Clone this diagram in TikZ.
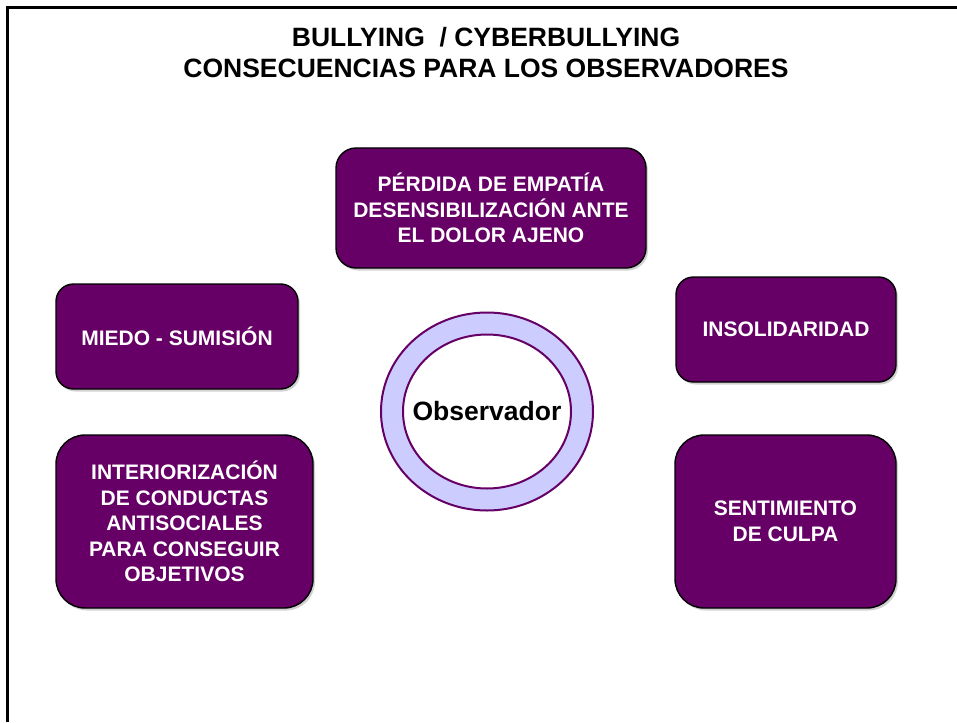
\documentclass[tikz,border=0pt]{standalone}
\usepackage{fontspec}
\setmainfont{Liberation Sans}
\usetikzlibrary{shapes.geometric,shadows}
\definecolor{plum}{HTML}{660066}
\definecolor{lav}{HTML}{CCCCFF}
\tikzset{
  box/.style={draw=black, line width=1.4pt, fill=plum, text=white,
    font=\fontsize{21}{25.5}\selectfont\bfseries, align=center, inner sep=0pt,
    drop shadow={shadow xshift=2pt, shadow yshift=-2.5pt, opacity=0.35}},
  ring/.style={ellipse, draw=plum, line width=2pt, inner sep=0pt},
  titletext/.style={font=\fontsize{26.5}{31}\selectfont\bfseries, align=center}
}
\begin{document}
\begin{tikzpicture}[x=1pt,y=-1pt]
\useasboundingbox (0,0) rectangle (957,722);
\fill[white] (0,0) rectangle (957,722);
\coordinate (fb) at (7.5,722);
\coordinate (fc) at (7.5,7.5);
\coordinate (fr) at (957,7.5);
\draw[line width=3pt] (fb) -- (fc) -- (fr);
\node[titletext] (title) at (486,52.5) {BULLYING\ \ / CYBERBULLYING\\CONSECUENCIAS PARA LOS OBSERVADORES};
\node[box, rounded corners=20pt, minimum width=310pt, minimum height=120pt] (top) at (491,208)
  {PÉRDIDA DE EMPATÍA\\DESENSIBILIZACIÓN ANTE\\EL DOLOR AJENO};
\node[box, rounded corners=17.5pt, minimum width=242pt, minimum height=105pt] (miedo) at (177,336.5)
  {MIEDO - SUMISIÓN};
\node[box, rounded corners=17.5pt, minimum width=220pt, minimum height=105pt] (insol) at (786,329.5)
  {INSOLIDARIDAD};
\node[box, rounded corners=29pt, minimum width=257pt, minimum height=173pt] (inter) at (184.5,521.5)
  {INTERIORIZACIÓN\\DE CONDUCTAS\\ANTISOCIALES\\PARA CONSEGUIR\\OBJETIVOS};
\node[box, rounded corners=29pt, minimum width=221pt, minimum height=173pt] (sent) at (785.5,521.5)
  {SENTIMIENTO\\DE CULPA};
\node[ring, fill=lav, minimum width=212pt, minimum height=198pt] (outer) at (487,411.5) {};
\node[ring, fill=white, minimum width=168pt, minimum height=154pt] (inner) at (outer.center) {};
\node[font=\fontsize{26.5}{30}\selectfont\bfseries] (obs) at (487,411) {Observador};
\end{tikzpicture}
\end{document}
